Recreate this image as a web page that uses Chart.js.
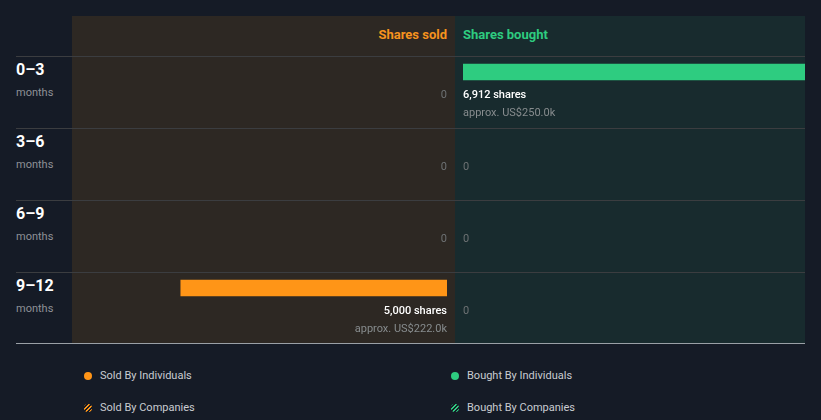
<!DOCTYPE html>
<html>
<head>
<meta charset="utf-8">
<script src="https://cdn.jsdelivr.net/npm/chart.js@4/dist/chart.umd.min.js"></script>
<style>
  html,body{margin:0;padding:0;background:#151b26;}
  body{width:821px;height:420px;position:relative;overflow:hidden;font-family:Roboto,"Noto Sans",sans-serif;}
  .abs{position:absolute;}
  #soldPanel{left:72px;top:16px;width:383px;height:327px;background:#2d2823;}
  #boughtPanel{left:455px;top:16px;width:350px;height:327px;background:#182b2e;}
  .hdr{font-size:13px;font-weight:700;top:26px;line-height:17px;}
  .line{left:16px;width:789px;height:1px;background:#3b3d40;}
  .rowLab{left:16px;font-size:16px;font-weight:700;color:#fff;line-height:20px;}
  .rowSub{left:16px;font-size:11px;color:#8e9197;line-height:14px;}
  .leg{font-size:11px;color:#c9ccd1;line-height:14px;}
  .dot{width:8px;height:8px;border-radius:50%;}
  canvas{position:absolute;}
</style>
</head>
<body>
<div id="soldPanel" class="abs"></div>
<div id="boughtPanel" class="abs"></div>
<div class="abs hdr" style="right:374px;color:#f7931e;">Shares sold</div>
<div class="abs hdr" style="left:463px;color:#2ecc80;">Shares bought</div>
<div id="rows"></div>
<canvas id="soldChart" width="383" height="327" style="left:72px;top:16px;"></canvas>
<canvas id="boughtChart" width="350" height="327" style="left:455px;top:16px;"></canvas>
<div class="abs" style="left:16px;top:343px;width:789px;height:1px;background:#9aa0a6;"></div>
<div id="legend"></div>
<script>
const categories = ['0–3', '3–6', '6–9', '9–12'];
const categoryUnit = 'months';
const soldShares = [0, 0, 0, 5000];
const soldValueK = [0, 0, 0, 222.0];
const boughtShares = [6912, 0, 0, 0];
const boughtValueK = [250.0, 0, 0, 0];
const scaleMax = 6912;
const legendItems = ['Sold By Individuals', 'Bought By Individuals', 'Sold By Companies', 'Bought By Companies'];

const ORANGE = '#ff9517';
const GREEN = '#2ecc80';

// row labels and separators
const rows = document.getElementById('rows');
categories.forEach((c, i) => {
  const top = 56 + i * 72;
  rows.insertAdjacentHTML('beforeend',
    `<div class="abs line" style="top:${top}px"></div>
     <div class="abs rowLab" style="top:${top + 4}px">${c}</div>
     <div class="abs rowSub" style="top:${top + 30}px">${categoryUnit}</div>`);
});

// legend
const leg = document.getElementById('legend');
const legPos = [[84, 369], [451, 369], [84, 401], [451, 401]];
const legCol = [ORANGE, GREEN, ORANGE, GREEN];
legendItems.forEach((t, i) => {
  const [x, y] = legPos[i];
  const striped = i >= 2;
  const bg = striped
    ? `repeating-linear-gradient(135deg, ${legCol[i]} 0px, ${legCol[i]} 1.5px, #151b26 1.5px, #151b26 3px)`
    : legCol[i];
  leg.insertAdjacentHTML('beforeend',
    `<div class="abs dot" style="left:${x}px;top:${y + 3}px;background:${bg}"></div>
     <div class="abs leg" style="left:${x + 16}px;top:${y}px">${t}</div>`);
});

function fmt(n) { return n.toLocaleString('en-US'); }

const labelPlugin = {
  id: 'barLabels',
  afterDatasetsDraw(chart, args, opts) {
    const ctx = chart.ctx;
    const meta = chart.getDatasetMeta(0);
    const xs = chart.scales.x;
    const zeroX = xs.getPixelForValue(0);
    const shares = chart.data.datasets[0].data;
    const vals = opts.values;
    ctx.save();
    ctx.textAlign = opts.align;
    ctx.textBaseline = 'middle';
    meta.data.forEach((el, i) => {
      const y = el.y;
      if (shares[i] > 0) {
        ctx.font = '500 11px Roboto, "Noto Sans", sans-serif';
        ctx.fillStyle = '#ffffff';
        ctx.fillText(fmt(shares[i]) + ' shares', zeroX, y + 23);
        ctx.font = '400 11px Roboto, "Noto Sans", sans-serif';
        ctx.fillStyle = '#878c8e';
        ctx.fillText('approx. US$' + vals[i].toFixed(1) + 'k', zeroX, y + 41);
      } else {
        ctx.font = '400 11px Roboto, "Noto Sans", sans-serif';
        ctx.fillStyle = '#6e7274';
        ctx.fillText('0', zeroX, y + 23);
      }
    });
    ctx.restore();
  }
};

function makeChart(id, data, values, color, reverse, padding, align) {
  return new Chart(document.getElementById(id), {
    type: 'bar',
    data: {
      labels: categories,
      datasets: [{
        data: data,
        backgroundColor: (c) => (c.raw > 0 ? color : 'rgba(0,0,0,0)'),
        borderWidth: 0,
        barThickness: 16
      }]
    },
    options: {
      indexAxis: 'y',
      responsive: false,
      animation: false,
      layout: { padding: padding },
      plugins: {
        legend: { display: false },
        tooltip: { enabled: false },
        barLabels: { values: values, align: align }
      },
      scales: {
        x: { display: false, min: 0, max: scaleMax, reverse: reverse },
        y: { display: false, offset: true }
      }
    },
    plugins: [labelPlugin]
  });
}

makeChart('soldChart', soldShares, soldValueK, ORANGE, true, { left: 7, right: 8, top: 20, bottom: 19 }, 'right');
makeChart('boughtChart', boughtShares, boughtValueK, GREEN, false, { left: 8, right: 0, top: 20, bottom: 19 }, 'left');
</script>
</body>
</html>
